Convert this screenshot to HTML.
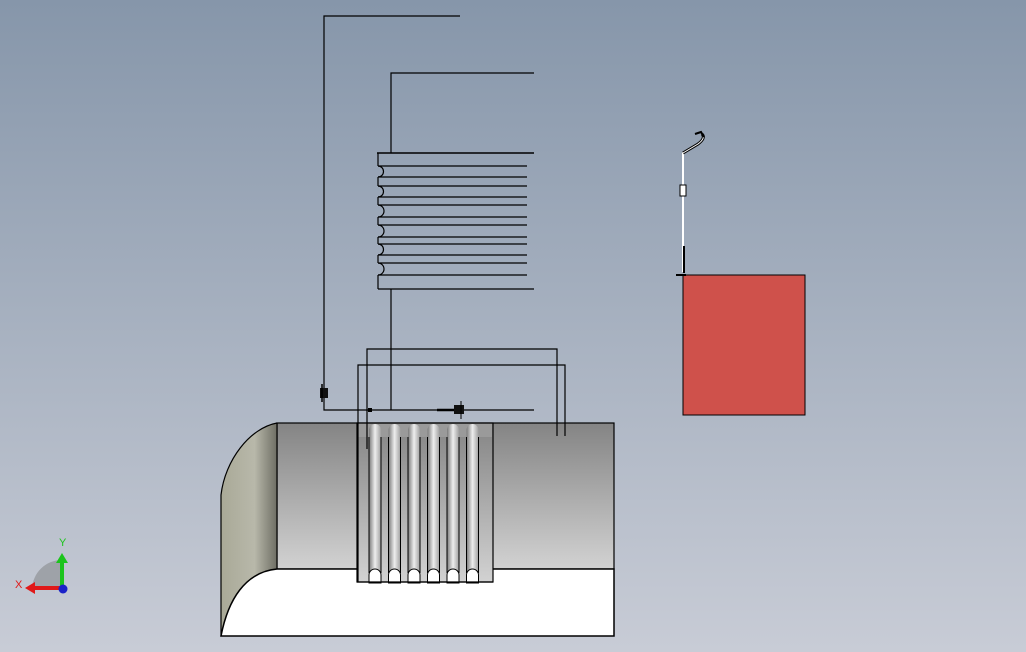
<!DOCTYPE html>
<html><head><style>html,body{margin:0;padding:0;}svg{display:block}</style></head><body>
<svg width="1026" height="652" viewBox="0 0 1026 652" xmlns="http://www.w3.org/2000/svg">
<defs>
<linearGradient id="bg" x1="0" y1="0" x2="0" y2="1"><stop offset="0" stop-color="#8696aa"/><stop offset="1" stop-color="#c8ccd6"/></linearGradient>
<linearGradient id="body" x1="0" y1="0" x2="0" y2="1"><stop offset="0" stop-color="#848484"/><stop offset="1" stop-color="#d2d2d2"/></linearGradient>
<linearGradient id="cap" x1="0" y1="0" x2="1" y2="0"><stop offset="0" stop-color="#a9a997"/><stop offset="0.6" stop-color="#b8b8aa"/><stop offset="1" stop-color="#6e6e64"/></linearGradient>
<linearGradient id="rib" x1="0" y1="0" x2="1" y2="0"><stop offset="0" stop-color="#7a7a7a"/><stop offset="0.5" stop-color="#eeeeee"/><stop offset="1" stop-color="#a0a0a0"/></linearGradient>
</defs>
<rect width="1026" height="652" fill="url(#bg)"/>
<rect x="277" y="423" width="337" height="146" fill="url(#body)" stroke="#000" stroke-width="1.2"/>
<path d="M277,423 C250,428 225,460 221,495 L221,636 L277,636 Z" fill="url(#cap)"/>
<path d="M221,636 L614,636 L614,569 L277,569 C245,572 228,600 221,636 Z" fill="#fff" stroke="#000" stroke-width="1.5"/>
<path d="M277,423 C250,428 225,460 221,495 L221,636" fill="none" stroke="#000" stroke-width="1.2"/>
<line x1="277" y1="423" x2="277" y2="569" stroke="#000" stroke-width="1.2"/>
<!-- bellows -->
<rect x="357" y="423" width="136" height="159" fill="url(#body)" stroke="#000" stroke-width="1.2"/>
<rect x="358" y="424" width="134" height="13" fill="#9a9a9a"/>
<g fill="url(#rib)">
<path d="M369,583 V430 A6,6 0 0 1 381,430 V583 Z"/>
<path d="M388.5,583 V430 A6,6 0 0 1 400.5,430 V583 Z"/>
<path d="M408,583 V430 A6,6 0 0 1 420,430 V583 Z"/>
<path d="M427.5,583 V430 A6,6 0 0 1 439.5,430 V583 Z"/>
<path d="M447,583 V430 A6,6 0 0 1 459,430 V583 Z"/>
<path d="M466.5,583 V430 A6,6 0 0 1 478.5,430 V583 Z"/>
</g>
<g stroke="#000" stroke-width="1">
<path d="M369,437V573 M381,437V573 M388.5,437V573 M400.5,437V573 M408,437V573 M420,437V573 M427.5,437V573 M439.5,437V573 M447,437V573 M459,437V573 M466.5,437V573 M478.5,437V573"/>
</g>
<g fill="#fff" stroke="#000" stroke-width="1">
<path d="M369,583 L369,575 A6,6 0 0 1 381,575 L381,583 Z"/>
<path d="M388.5,583 L388.5,575 A6,6 0 0 1 400.5,575 L400.5,583 Z"/>
<path d="M408,583 L408,575 A6,6 0 0 1 420,575 L420,583 Z"/>
<path d="M427.5,583 L427.5,575 A6,6 0 0 1 439.5,575 L439.5,583 Z"/>
<path d="M447,583 L447,575 A6,6 0 0 1 459,575 L459,583 Z"/>
<path d="M466.5,583 L466.5,575 A6,6 0 0 1 478.5,575 L478.5,583 Z"/>
</g>
<line x1="357" y1="582" x2="493" y2="582" stroke="#000" stroke-width="1.2"/>
<!-- pipes -->
<g fill="none" stroke="#000" stroke-width="1.2">
<polyline points="460,16 324,16 324,410 534,410"/>
<polyline points="534,73 391,73 391,153"/>
<line x1="391" y1="289" x2="391" y2="410"/>
<polyline points="367,449 367,349 557,349 557,436"/>
<polyline points="358,582 358,365 565,365 565,436"/>
<line x1="377" y1="153" x2="534" y2="153" stroke-width="1.5"/>
<path d="M378,153 L378,166 M378,177 L378,186 M378,197 L378,205 M378,217 L378,225 M378,237 L378,244 M378,255 L378,263 M378,275 L378,289"/>
<path d="M378,166 A5.5,5.5 0 0 1 378,177 M378,186 A5.5,5.5 0 0 1 378,197 M378,205 A6,6 0 0 1 378,217 M378,225 A6,6 0 0 1 378,237 M378,244 A5.5,5.5 0 0 1 378,255 M378,263 A6,6 0 0 1 378,275"/>
<path d="M378,166H527 M378,177H527 M378,186H527 M378,197H527 M378,205H527 M378,217H527 M378,225H527 M378,237H527 M378,244H527 M378,255H527 M378,263H527 M378,275H527 M378,289H534"/>
</g>
<rect x="320" y="388" width="8" height="10" fill="#111"/>
<line x1="322" y1="384" x2="322" y2="402" stroke="#000" stroke-width="1.5"/>
<rect x="368" y="408" width="4" height="4" fill="#000"/>
<line x1="437" y1="410" x2="455" y2="410" stroke="#000" stroke-width="2.5"/>
<rect x="454" y="405" width="10" height="9" fill="#111"/>
<line x1="461" y1="401" x2="461" y2="419" stroke="#000" stroke-width="1"/>
<rect x="683" y="275" width="122" height="140" fill="#cf514b" stroke="#000" stroke-width="1"/>
<line x1="683" y1="152" x2="683" y2="272" stroke="#fff" stroke-width="2"/>
<line x1="684" y1="246" x2="684" y2="273" stroke="#000" stroke-width="2"/>
<line x1="676" y1="275" x2="686" y2="275" stroke="#000" stroke-width="2"/>
<rect x="680" y="185" width="6" height="11" fill="#fff" stroke="#000"/>
<path d="M683,153 L698,144 Q706,138 702,134" fill="none" stroke="#000" stroke-width="3"/>
<path d="M683,153 L698,144 Q706,138 702,134" fill="none" stroke="#fff" stroke-width="1"/>
<path d="M695,134 L701,132 L704,137" fill="none" stroke="#000" stroke-width="2"/>
<path d="M32,589 A30,30 0 0 1 62,560 L62,589 Z" fill="#9ea2a8"/>
<line x1="62" y1="588" x2="62" y2="562" stroke="#1cc41c" stroke-width="4"/>
<polygon points="56,563 68,563 62,553" fill="#1cc41c"/>
<line x1="62" y1="588" x2="34" y2="588" stroke="#e01818" stroke-width="4"/>
<polygon points="35,582 35,594 25,588" fill="#e01818"/>
<circle cx="63" cy="589" r="4.5" fill="#1a22c8"/>
<text x="59" y="546" font-family="Liberation Sans, sans-serif" font-size="11" fill="#1cc41c">Y</text>
<text x="15" y="588" font-family="Liberation Sans, sans-serif" font-size="11" fill="#e01818">X</text>
</svg>
</body></html>
